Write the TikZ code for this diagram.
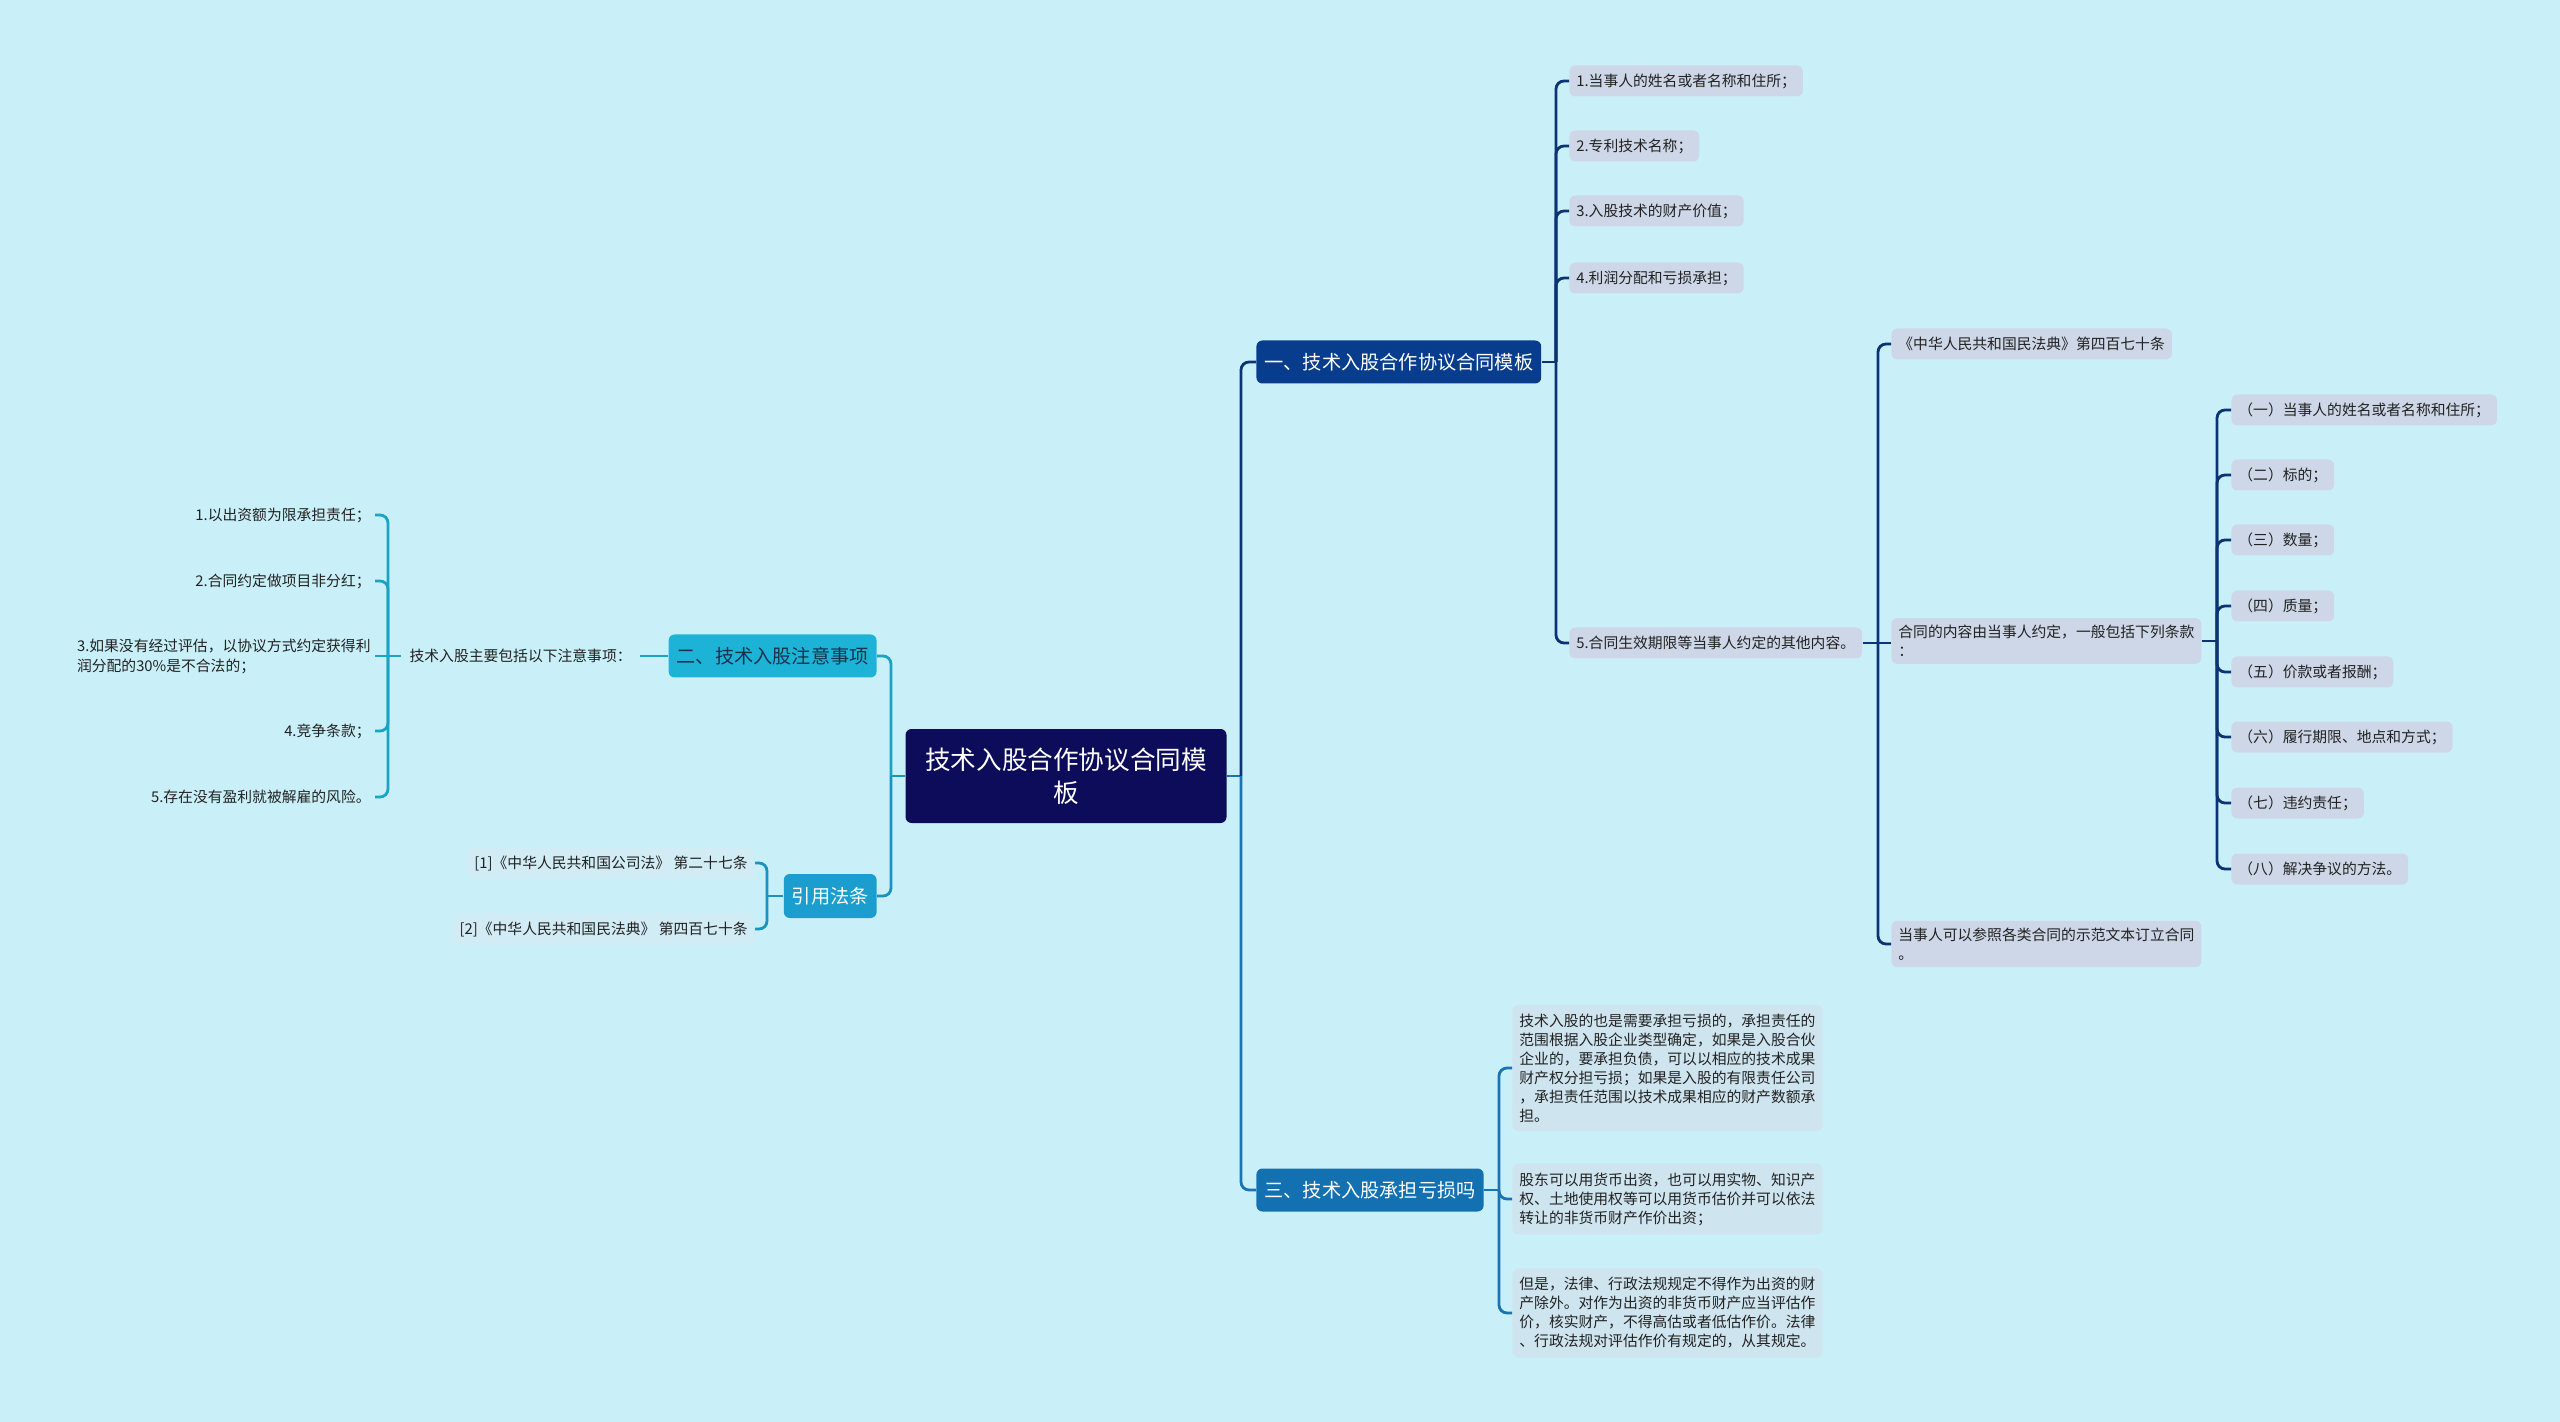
\documentclass[tikz,border=0pt]{standalone}
\usepackage{fontspec}
\setmainfont{Noto Sans CJK SC}
\usetikzlibrary{positioning}
\definecolor{bgcol}{HTML}{C9F0F8}
\definecolor{rootcol}{HTML}{0C0C5A}
\definecolor{tplcol}{HTML}{073D8C}
\definecolor{tplline}{HTML}{0C3474}
\definecolor{losscol}{HTML}{1471B1}
\definecolor{lossline}{HTML}{1A73B2}
\definecolor{notecol}{HTML}{1DB3D7}
\definecolor{noteink}{HTML}{17324D}
\definecolor{noteline}{HTML}{1AA3C4}
\definecolor{lawcol}{HTML}{1B9ECE}
\definecolor{lawline}{HTML}{1A92C2}
\definecolor{leafcol}{HTML}{CDD7E7}
\definecolor{paracol}{HTML}{CEE4EF}
\definecolor{lawleafcol}{HTML}{D1ECF5}
\definecolor{ink}{HTML}{222222}

\begin{document}
\begin{tikzpicture}[x=0.5pt,y=-0.5pt,
    root/.style={fill=rootcol,text=white,rounded corners=3pt,align=center,
      minimum width=160.5pt,minimum height=47pt,font=\fontsize{12.8}{16.5}\selectfont},
    topic/.style={rounded corners=3pt,inner xsep=4pt,minimum height=21.5pt,
      text=white,font=\fontsize{9.6}{12}\selectfont},
    leaf/.style={fill=leafcol,rounded corners=3pt,inner xsep=3.5pt,inner ysep=3.5pt,
      minimum height=15.5pt,text=ink,align=left,anchor=west,
      font=\fontsize{7.4}{9.5}\selectfont},
    para/.style={leaf,fill=paracol,inner ysep=4.5pt},
    lawleaf/.style={leaf,fill=lawleafcol,anchor=east,align=right},
    keyitem/.style={text=ink,align=left,anchor=east,inner xsep=2pt,inner ysep=0pt,
      font=\fontsize{7.4}{10}\selectfont},
    link/.style={line width=1.4pt,rounded corners=4pt}]
    \fill[bgcol] (0,0) rectangle (2560,1422);
    \useasboundingbox (0,0) rectangle (2560,1422);

    % centre and main topics
    \node[root] (root) at (1066,776) {技术入股合作协议合同模\\板};
    \node[topic,fill=tplcol,anchor=west] (tpl) at (1256,362) {一、技术入股合作协议合同模板};
    \node[topic,fill=losscol,anchor=west] (loss) at (1256,1190) {三、技术入股承担亏损吗};
    \node[topic,fill=notecol,text=noteink,anchor=east] (note) at (877,656) {二、技术入股注意事项};
    \node[topic,fill=lawcol,anchor=east,minimum height=22pt] (law) at (877,896) {引用法条};

    % branch one
    \node[leaf] (c1) at (1569,81) {1.当事人的姓名或者名称和住所；};
    \node[leaf] (c2) at (1569,146) {2.专利技术名称；};
    \node[leaf] (c3) at (1569,211) {3.入股技术的财产价值；};
    \node[leaf] (c4) at (1569,278) {4.利润分配和亏损承担；};
    \node[leaf] (c5) at (1569,643) {5.合同生效期限等当事人约定的其他内容。};
    \node[leaf] (d1) at (1891,344) {《中华人民共和国民法典》第四百七十条};
    \node[leaf] (d2) at (1891,641) {合同的内容由当事人约定，一般包括下列条款\\：};
    \node[leaf] (d3) at (1891,944) {当事人可以参照各类合同的示范文本订立合同\\。};
    \node[leaf] (e1) at (2231,410) {（一）当事人的姓名或者名称和住所；};
    \node[leaf] (e2) at (2231,475) {（二）标的；};
    \node[leaf] (e3) at (2231,540) {（三）数量；};
    \node[leaf] (e4) at (2231,606) {（四）质量；};
    \node[leaf] (e5) at (2231,672) {（五）价款或者报酬；};
    \node[leaf] (e6) at (2231,737) {（六）履行期限、地点和方式；};
    \node[leaf] (e7) at (2231,803) {（七）违约责任；};
    \node[leaf] (e8) at (2231,869) {（八）解决争议的方法。};

    % branch three
    \node[para] (p1) at (1512,1068) {技术入股的也是需要承担亏损的，承担责任的\\范围根据入股企业类型确定，如果是入股合伙\\企业的，要承担负债，可以以相应的技术成果\\财产权分担亏损；如果是入股的有限责任公司\\，承担责任范围以技术成果相应的财产数额承\\担。};
    \node[para] (p2) at (1512,1199) {股东可以用货币出资，也可以用实物、知识产\\权、土地使用权等可以用货币估价并可以依法\\转让的非货币财产作价出资；};
    \node[para] (p3) at (1512,1313) {但是，法律、行政法规规定不得作为出资的财\\产除外。对作为出资的非货币财产应当评估作\\价，核实财产，不得高估或者低估作价。法律\\、行政法规对评估作价有规定的，从其规定。};

    % branch two
    \node[keyitem,inner xsep=4pt] (keys) at (640,656) {技术入股主要包括以下注意事项：};
    \node[keyitem] (k1) at (375,515) {1.以出资额为限承担责任；};
    \node[keyitem] (k2) at (375,581) {2.合同约定做项目非分红；};
    \node[keyitem] (k3) at (375,656) {3.如果没有经过评估，以协议方式约定获得利\\润分配的30\%是不合法的；};
    \node[keyitem] (k4) at (375,731) {4.竞争条款；};
    \node[keyitem] (k5) at (375,797) {5.存在没有盈利就被解雇的风险。};

    % cited laws
    \node[lawleaf] (r1) at (755,863) {[1]《中华人民共和国公司法》 第二十七条};
    \node[lawleaf] (r2) at (755,929) {[2]《中华人民共和国民法典》 第四百七十条};

    % junctions
    \coordinate (jr) at (1241,776);
    \coordinate (jl) at (891,776);
    \coordinate (j1) at (1556,362);
    \coordinate (j5) at (1878,643);
    \coordinate (j6) at (2217,641);
    \coordinate (j3) at (1499,1190);
    \coordinate (jt) at (388,656);
    \coordinate (j4) at (767,896);

    % connectors
    \draw[link,lossline] (root.east) -- (jr);
    \draw[link,tplline] (jr) |- (tpl.west);
    \draw[link,lossline] (jr) |- (loss.west);
    \draw[link,lawline] (root.west) -- (jl);
    \draw[link,noteline] (jl) |- (note.east);
    \draw[link,lawline] (jl) |- (law.east);

    \draw[link,tplline] (tpl.east) -- (j1);
    \draw[link,tplline] (j1) |- (c1.west);
    \draw[link,tplline] (j1) |- (c2.west);
    \draw[link,tplline] (j1) |- (c3.west);
    \draw[link,tplline] (j1) |- (c4.west);
    \draw[link,tplline] (j1) |- (c5.west);
    \draw[link,tplline] (c5.east) -- (j5);
    \draw[link,tplline] (j5) |- (d1.west);
    \draw[link,tplline] (j5) -- (d2.west |- j5);
    \draw[link,tplline] (j5) |- (d3.west);
    \draw[link,tplline] (d2.east) -- (j6);
    \draw[link,tplline] (j6) |- (e1.west);
    \draw[link,tplline] (j6) |- (e2.west);
    \draw[link,tplline] (j6) |- (e3.west);
    \draw[link,tplline] (j6) |- (e4.west);
    \draw[link,tplline] (j6) |- (e5.west);
    \draw[link,tplline] (j6) |- (e6.west);
    \draw[link,tplline] (j6) |- (e7.west);
    \draw[link,tplline] (j6) |- (e8.west);

    \draw[link,lossline] (loss.east) -- (j3);
    \draw[link,lossline] (j3) |- (p1.west);
    \draw[link,lossline] (j3) |- (p2.west);
    \draw[link,lossline] (j3) |- (p3.west);

    \draw[link,noteline] (note.west) -- (keys.east);
    \draw[link,noteline] (keys.west) -- (jt);
    \draw[link,noteline] (jt) |- (k1.east);
    \draw[link,noteline] (jt) |- (k2.east);
    \draw[link,noteline] (jt) -- (k3.east);
    \draw[link,noteline] (jt) |- (k4.east);
    \draw[link,noteline] (jt) |- (k5.east);

    \draw[link,lawline] (law.west) -- (j4);
    \draw[link,lawline] (j4) |- (r1.east);
    \draw[link,lawline] (j4) |- (r2.east);
\end{tikzpicture}
\end{document}
